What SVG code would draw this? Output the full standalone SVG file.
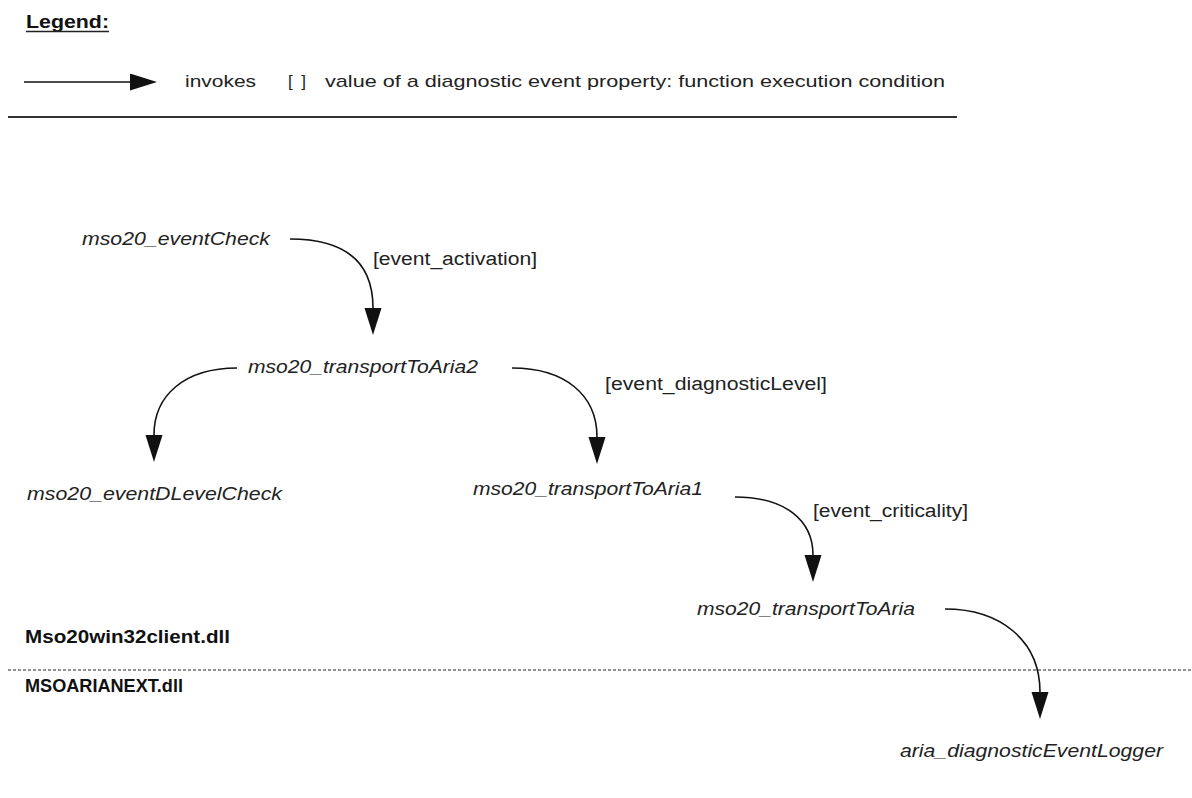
<svg xmlns="http://www.w3.org/2000/svg" width="1192" height="798" viewBox="0 0 1192 798">
<defs>
<style>
text{font-family:"Liberation Sans",Arial,sans-serif;fill:#222;}
.fn{font-size:18px;font-style:italic;}
.lbl{font-size:18px;}
.leg{font-size:17px;}
.dll{font-size:18px;font-weight:bold;fill:#111;}
.conn{fill:none;stroke:#111;stroke-width:1.6;marker-end:url(#ah);}
</style>
<marker id="ah" markerUnits="userSpaceOnUse" markerWidth="28" markerHeight="18" refX="0" refY="8.5" orient="auto">
<path d="M0,0 L27,8.5 L0,17 Z" fill="#111"/>
</marker>
</defs>
<rect width="1192" height="798" fill="#fff"/>
<g id="legend">
<text x="26" y="28" class="dll" textLength="83" lengthAdjust="spacingAndGlyphs">Legend:</text>
<line x1="26" y1="31.5" x2="109" y2="31.5" stroke="#222" stroke-width="1.3"/>
<path d="M24,82 L130,82" class="conn"/>
<text x="185" y="87" class="leg" textLength="71" lengthAdjust="spacingAndGlyphs">invokes</text>
<text x="288" y="87" class="leg" textLength="18" lengthAdjust="spacing">[ ]</text>
<text x="325" y="87" class="leg" textLength="620" lengthAdjust="spacingAndGlyphs">value of a diagnostic event property: function execution condition</text>
<line x1="8" y1="117" x2="957" y2="117" stroke="#333" stroke-width="1.8"/>
</g>
<g id="connectors">
<path d="M290,239 C345,239 373,262 373,308" class="conn"/>
<path d="M237,368 C185,368 154,395 154,435" class="conn"/>
<path d="M512,368 C565,368 597,395 597,437" class="conn"/>
<path d="M735,497 C785,497 813,520 813,555" class="conn"/>
<path d="M945,609 C1000,609 1040,640 1040,692" class="conn"/>
<text x="373" y="265" class="lbl" textLength="164" lengthAdjust="spacingAndGlyphs">[event_activation]</text>
<text x="605" y="390" class="lbl" textLength="222" lengthAdjust="spacingAndGlyphs">[event_diagnosticLevel]</text>
<text x="813" y="517" class="lbl" textLength="155" lengthAdjust="spacingAndGlyphs">[event_criticality]</text>
</g>
<g id="n-eventCheck"><text x="82" y="245" class="fn" textLength="188" lengthAdjust="spacingAndGlyphs">mso20_eventCheck</text></g>
<g id="n-transportToAria2"><text x="248" y="373" class="fn" textLength="230" lengthAdjust="spacingAndGlyphs">mso20_transportToAria2</text></g>
<g id="n-eventDLevelCheck"><text x="27" y="500" class="fn" textLength="255" lengthAdjust="spacingAndGlyphs">mso20_eventDLevelCheck</text></g>
<g id="n-transportToAria1"><text x="473" y="495" class="fn" textLength="230" lengthAdjust="spacingAndGlyphs">mso20_transportToAria1</text></g>
<g id="n-transportToAria"><text x="697" y="615" class="fn" textLength="218" lengthAdjust="spacingAndGlyphs">mso20_transportToAria</text></g>
<g id="n-aria"><text x="900" y="757" class="fn" textLength="263" lengthAdjust="spacingAndGlyphs">aria_diagnosticEventLogger</text></g>
<g id="boundary">
<text x="25" y="643" class="dll" textLength="205" lengthAdjust="spacingAndGlyphs">Mso20win32client.dll</text>
<line x1="8" y1="670" x2="1192" y2="670" stroke="#222" stroke-width="1.2" stroke-dasharray="3,2"/>
<text x="25" y="692" class="dll" textLength="158" lengthAdjust="spacingAndGlyphs">MSOARIANEXT.dll</text>
</g>
</svg>
